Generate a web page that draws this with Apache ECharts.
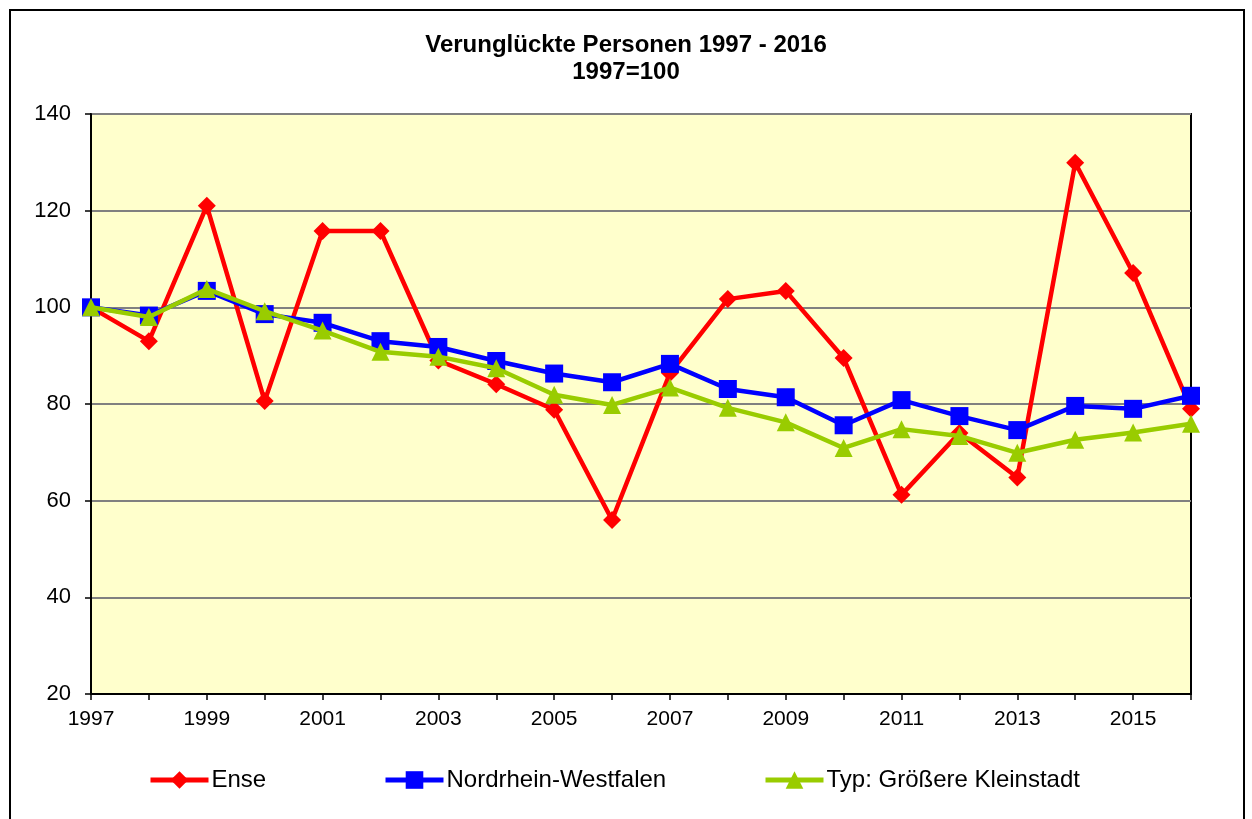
<!DOCTYPE html>
<html>
<head>
<meta charset="utf-8">
<script src="https://cdn.jsdelivr.net/npm/echarts@6/dist/echarts.min.js"></script>
<style>
html,body{margin:0;padding:0;background:#fff;}
#chart{width:1252px;height:819px;}
</style>
</head>
<body>
<div id="chart"></div>
<script>
const years = ['1997','1998','1999','2000','2001','2002','2003','2004','2005','2006','2007','2008','2009','2010','2011','2012','2013','2014','2015','2016'];
const ense = [100, 93.0, 121.0, 80.6, 115.8, 115.8, 89.0, 84.1, 78.8, 56.0, 86.4, 101.7, 103.4, 89.5, 61.2, 74.0, 64.8, 129.9, 107.1, 79.0];
const nrw = [100, 98.3, 103.4, 98.6, 96.8, 93.0, 91.8, 88.9, 86.3, 84.5, 88.3, 83.1, 81.4, 75.6, 80.8, 77.5, 74.6, 79.6, 79.0, 81.7];
const typ = [100, 98.0, 103.8, 99.2, 95.2, 90.8, 89.8, 87.4, 81.9, 79.8, 83.4, 79.2, 76.2, 70.9, 74.8, 73.4, 69.9, 72.6, 74.1, 75.9];
const seriesNames = ['Ense', 'Nordrhein-Westfalen', 'Typ: Größere Kleinstadt'];
const yTicks = [20, 40, 60, 80, 100, 120, 140];

const font = '"Liberation Sans", Arial, sans-serif';
const chart = echarts.init(document.getElementById('chart'));

function legend(name, left) {
  return {
    data: [name], left: left, top: 768, padding: 0, itemWidth: 58, itemHeight: 22, itemGap: 4,
    lineStyle: { width: 5 },
    textStyle: { fontFamily: font, fontSize: 24, color: '#000', padding: [0,0,0,-2] },
    selectedMode: false
  };
}

chart.setOption({
  animation: false,
  backgroundColor: '#fff',
  graphic: [{
    type: 'rect', left: 9, top: 9, z: -10,
    shape: { x: 0, y: 0, width: 1234, height: 830 },
    style: { fill: '#fff', stroke: '#000', lineWidth: 2 }
  }],
  title: {
    text: 'Verunglückte Personen 1997 - 2016\n1997=100',
    left: 'center', top: 27,
    textStyle: { fontFamily: font, fontSize: 24, fontWeight: 'bold', color: '#000', lineHeight: 27 }
  },
  legend: [legend(seriesNames[0], 148), legend(seriesNames[1], 383), legend(seriesNames[2], 763)],
  grid: {
    left: 91, top: 114, width: 1100, height: 580,
    show: true, backgroundColor: '#FFFFCC', borderColor: '#000', borderWidth: 2
  },
  xAxis: {
    type: 'category', data: years, boundaryGap: false,
    axisLine: { lineStyle: { color: '#000', width: 2 } },
    axisTick: { show: true, interval: 0, length: 6, lineStyle: { color: '#000', width: 1.5 } },
    axisLabel: { interval: 1, fontFamily: font, fontSize: 21, color: '#000', margin: 15 },
    splitLine: { show: false }
  },
  yAxis: {
    type: 'value', min: yTicks[0], max: yTicks[yTicks.length-1], interval: 20,
    axisLine: { show: true, lineStyle: { color: '#000', width: 2 } },
    axisTick: { show: true, length: 6, lineStyle: { color: '#000', width: 1.5 } },
    axisLabel: { fontFamily: font, fontSize: 22, color: '#000', margin: 20 },
    splitLine: { show: true, lineStyle: { color: '#808080', width: 2 } }
  },
  series: [
    { name: seriesNames[0], type: 'line', data: ense, symbol: 'diamond', symbolSize: 18,
      lineStyle: { color: '#FF0000', width: 4.5 }, itemStyle: { color: '#FF0000' }, z: 2 },
    { name: seriesNames[1], type: 'line', data: nrw, symbol: 'rect', symbolSize: 18,
      lineStyle: { color: '#0000FF', width: 4.5 }, itemStyle: { color: '#0000FF' }, z: 3 },
    { name: seriesNames[2], type: 'line', data: typ, symbol: 'triangle', symbolSize: 18,
      lineStyle: { color: '#99CC00', width: 4.5 }, itemStyle: { color: '#99CC00' }, z: 4 }
  ]
});
</script>
</body>
</html>
